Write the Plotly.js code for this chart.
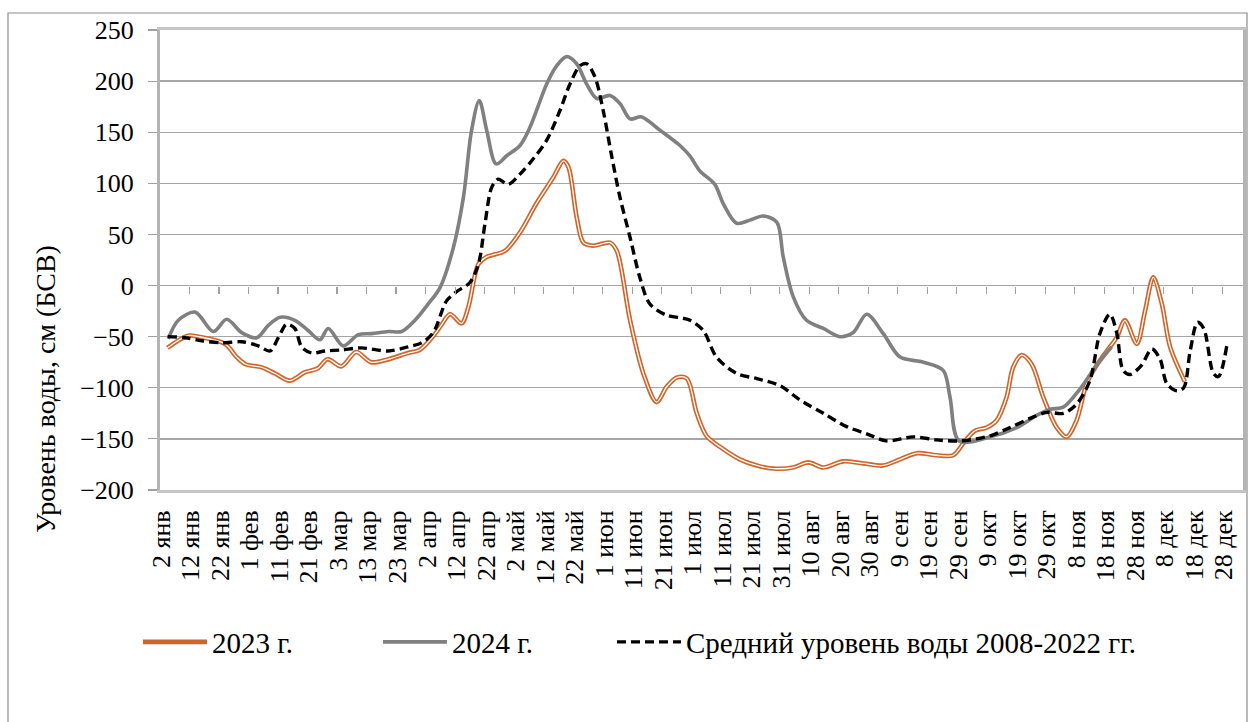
<!DOCTYPE html>
<html>
<head>
<meta charset="utf-8">
<script src="https://cdn.plot.ly/plotly-3.0.1.min.js"></script>
<style>
  html, body { margin: 0; padding: 0; background: #fff; }
  #chart { width: 1248px; height: 722px; }
</style>
</head>
<body>
<div id="chart"></div>
<script>
// Tick labels (every 10 days starting 2 Jan), positions in days from 2 Jan
const tickDays = [0,10,20,30,40,50,60,70,80,90,100,110,120,130,140,150,160,170,180,190,200,210,220,230,240,250,260,270,280,290,300,310,320,330,340,350,360];
const tickLabels = ["2 янв","12 янв","22 янв","1 фев","11 фев","21 фев","3 мар","13 мар","23 мар","2 апр","12 апр","22 апр","2 май","12 май","22 май","1 июн","11 июн","21 июн","1 июл","11 июл","21 июл","31 июл","10 авг","20 авг","30 авг","9 сен","19 сен","29 сен","9 окт","19 окт","29 окт","8 ноя","18 ноя","28 ноя","8 дек","18 дек","28 дек"];
const minorTickDays = [9.5,19.5,29.5,39.5,49.5,59.5,69.5,79.5,89.5,99.5,109.5,119.5,129.5,139.5,149.5,159.5,169.5,179.5,189.5,199.5,209.5,219.5,229.5,239.5,249.5,259.5,269.5,279.5,289.5,299.5,309.5,319.5,329.5,339.5,349.5,359.5];

// 2023
const days2023 = [2,9,12.5,21.5,25.5,28.5,34,38.5,43.5,48.5,53,56.3,61,66,71,77,83.5,87.5,92.5,95,97.8,101.7,104,107.4,110.2,116.4,121.5,127,132.8,136.2,137.9,140.7,143,146.3,152,154.3,158.8,163.3,167.8,171.2,174.6,178,181.4,184.7,190.4,196,201.7,207.3,214,219.2,224.3,231,237.8,244.6,250.3,256,262.7,268.3,272.3,275.7,279.6,283,286.4,288.6,291.5,294.9,298.8,303.4,306.7,310.1,313.5,316.9,321.4,323.7,326.5,330.5,333.3,336.1,339,341.8,346.8];
const level2023 = [-61,-49,-50,-57,-70,-77,-80,-86,-93,-85,-81,-72,-79,-65,-75,-72,-66,-63,-48,-38,-28,-37,-21,21,28,34,52,80,106,122,116,67,42,39,42,34,-34,-86,-114,-99,-90,-91,-125,-147,-160,-170,-176,-179,-178,-173,-178,-172,-174,-176,-170,-164,-166,-166,-152,-142,-139,-132,-109,-80,-68,-77,-109,-139,-148,-132,-96,-78,-60,-51,-34,-57,-25,8,-18,-60,-94];

// 2024
const days2024 = [2.3,5.7,11.4,17.6,22.1,27.2,32.3,36.2,40.2,45.2,49.7,53.7,56.5,61.6,66.7,71.2,76.9,81.4,85.9,90.4,94.4,98.9,102.3,105.1,107.7,110.2,113.4,117,121.5,124.9,130.5,133.9,137.3,140.7,144.1,147.5,152,155.4,158.8,162.7,168.9,175.7,179,182.5,187.5,190.4,194.9,199.4,203.9,208.5,210.7,214.1,218.6,224.3,229.9,234.4,239,244.6,250.3,258.2,264.9,267.2,270.3,280.8,289.8,296.6,301.1,305.6,311.3,316.9,322];
const level2024 = [-52,-34,-26,-45,-33,-46,-51,-39,-31,-34,-44,-53,-42,-59,-48,-47,-45,-45,-34,-18,-2,37,86,152,181,152,119,127,137,155,197,215,224,217,197,183,186,178,163,165,152,137,127,112,99,80,61,64,68,62,28,-11,-34,-42,-50,-46,-28,-47,-70,-75,-83,-109,-152,-148,-139,-127,-121,-119,-101,-78,-60];

// Average 2008-2022
const daysAvg = [2.1,8,13.6,20.4,27.2,32.8,36.8,39.6,42.4,45.2,47.5,50.9,55.4,61,67.8,76.9,83.6,88.2,92.1,96.6,100,104.5,107.4,109.6,111.9,114.1,117.5,121.5,126,130.5,135,138.4,141.8,144.1,146.9,149.7,152.6,155.4,158.8,162.1,165.5,171.2,176.8,179.1,183.6,188.1,194.9,201.7,209.6,216.4,224.3,232.2,239,245.7,254.8,262.7,270.6,280.8,287.5,294.3,300,305.6,310.1,314.6,318,321.4,323.7,325.9,328.2,332.1,335.6,338.4,340.7,344.1,346.4,348.6,351.1,353.2,356.5,358.2,361];
const levelAvg = [-50,-51,-54,-56,-55,-59,-64,-51,-38,-42,-60,-66,-64,-63,-61,-64,-60,-56,-46,-15,-6,3,21,60,96,104,99,109,124,142,171,197,215,217,204,171,126,86,47,8,-18,-29,-32,-34,-44,-70,-86,-91,-98,-112,-125,-138,-145,-152,-148,-151,-152,-147,-139,-130,-124,-125,-116,-93,-47,-28,-46,-83,-87,-78,-62,-72,-96,-103,-100,-64,-36,-42,-86,-89,-59];

const seriesNames = ["2023 г.", "2024 г.", "Средний уровень воды 2008-2022 гг."];
const yTitle = "Уровень воды, см (БСВ)";

const FONT = "'Liberation Serif', 'Times New Roman', serif";
const ORANGE = "#D0652A";
const GRAY = "#808080";

const traces = [
  { x: days2023, y: level2023, type: "scatter", mode: "lines", name: seriesNames[0], legend: "legend",
    line: { color: ORANGE, width: 4.6, shape: "spline", smoothing: 0.9 } },
  { x: days2023, y: level2023, type: "scatter", mode: "lines", showlegend: false, hoverinfo: "skip",
    line: { color: "#FFFFFF", width: 1.3, shape: "spline", smoothing: 0.9 } },
  { x: days2024, y: level2024, type: "scatter", mode: "lines", name: seriesNames[1], legend: "legend2",
    line: { color: GRAY, width: 3.6, shape: "spline", smoothing: 0.9 } },
  { x: daysAvg, y: levelAvg, type: "scatter", mode: "lines", name: seriesNames[2], legend: "legend3",
    line: { color: "#000000", width: 3.4, dash: "9px,5px", shape: "spline", smoothing: 0.9 } },
  // invisible trace carrying the small tick marks on the zero line
  { x: [minorTickDays[0]], y: [0], xaxis: "x2", yaxis: "y", type: "scatter", mode: "none",
    showlegend: false, hoverinfo: "skip" }
];

function legendAt(textLeftPx) {
  return {
    orientation: "h", x: (textLeftPx - 74 - 160) / 1083, xanchor: "left",
    y: (490 - 642) / 460, yanchor: "middle",
    font: { family: FONT, size: 29, color: "#000000" },
    itemwidth: 64, bgcolor: "rgba(0,0,0,0)", borderwidth: 0
  };
}

const layout = {
  width: 1248, height: 722,
  margin: { l: 160, r: 5, t: 30, b: 232 },
  paper_bgcolor: "#FFFFFF", plot_bgcolor: "#FFFFFF",
  font: { family: FONT, color: "#000000" },
  showlegend: true,
  xaxis: {
    range: [-0.5, 366.5], tickmode: "array", tickvals: tickDays, ticktext: tickLabels,
    tickangle: -90, ticks: "", showgrid: false, zeroline: false,
    showline: true, mirror: true, linecolor: "#C4C4C4", linewidth: 3,
    tickfont: { family: FONT, size: 26, color: "#000000" }, ticklabelstandoff: 7
  },
  xaxis2: {
    overlaying: "x", anchor: "free", position: 200/450, side: "bottom",
    range: [-0.5, 366.5], tickmode: "array", tickvals: minorTickDays,
    ticks: "outside", ticklen: 7, tickwidth: 1.2, tickcolor: "#A0A0A0",
    showticklabels: false, showgrid: false, zeroline: false, showline: false
  },
  yaxis: {
    range: [-200, 250], dtick: 50, tick0: 0,
    ticks: "outside", ticklen: 9, tickwidth: 1.2, tickcolor: "#A0A0A0",
    showgrid: true, gridcolor: "#A6A6A6", gridwidth: 1.3, zeroline: false,
    showline: true, mirror: true, linecolor: "#B4B4B4", linewidth: 3,
    tickfont: { family: FONT, size: 26, color: "#000000" }, ticklabelstandoff: 9
  },
  legend: legendAt(212),
  legend2: legendAt(452),
  legend3: legendAt(686),
  annotations: [
    { text: yTitle, xref: "paper", yref: "paper", x: (45 - 160) / 1083, y: (490 - 389) / 460,
      xanchor: "center", yanchor: "middle", textangle: -90, showarrow: false,
      font: { family: FONT, size: 28, color: "#000000" } }
  ],
  shapes: [
    { type: "rect", xref: "paper", yref: "paper",
      x0: (8 - 160) / 1083, x1: (1247 - 160) / 1083, y0: (490 - 740) / 460, y1: (490 - 13) / 460,
      line: { color: "#8C8C8C", width: 1.2 }, fillcolor: "rgba(0,0,0,0)", layer: "below" }
  ]
};

Plotly.newPlot("chart", traces, layout, { staticPlot: true, displayModeBar: false });
</script>
</body>
</html>
